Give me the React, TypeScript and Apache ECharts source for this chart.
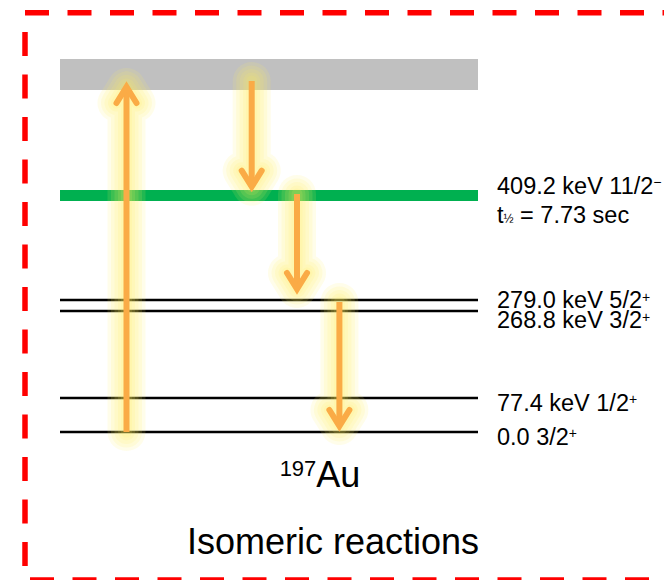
import React, { useEffect, useRef } from 'react';
import * as echarts from 'echarts';

// ---- data (schematic level diagram of 197Au) ----
const levelEnergies = ['0.0', '77.4 keV', '268.8 keV', '279.0 keV', '409.2 keV'];
const levelSpins = ['3/2', '1/2', '3/2', '5/2', '11/2'];
const levelParities = ['+', '+', '+', '+', '\u2212'];
// schematic heights of the levels in the drawing (not to energy scale)
const levelHeights = [0, 34, 121, 132, 236.5];
const isomerIndex = 4;
const isomerHalfLife = '7.73 sec';
// continuum / excitation band (schematic heights)
const bandRange = [342, 373];
// transitions: position along the level, start height, end height
const arrowX = [66.5, 191.7, 237, 279.4];
const arrowFrom = [0, 351, 238, 130];
const arrowTo = [351, 239.3, 137, 0];
const nucleusMass = '197';
const nucleusSymbol = 'Au';
const captionText = 'Isomeric reactions';

const FONT = "'Liberation Sans', Arial, Helvetica, sans-serif";
const X_MAX = 418;
const Y_MAX = 400;
const GLOW_WIDTHS = [38, 31, 24, 17, 11];

function labelCenters(): number[] {
  const c = levelHeights.map((h) => h - 4.5);
  for (let i = 0; i < c.length - 1; i++) {
    const gap = c[i + 1] - c[i];
    if (gap < 20) {
      const m = (c[i] + c[i + 1]) / 2;
      c[i] = m - 10;
      c[i + 1] = m + 10;
    }
  }
  return c;
}

function labelText(i: number): string {
  const first = `{m|${levelEnergies[i]} ${levelSpins[i]}}{sp|${levelParities[i]}}`;
  if (i === isomerIndex) {
    return `${first}\n{m|t}{sb|\u00bd}{m| = ${isomerHalfLife}}`;
  }
  return first;
}

export default function App() {
  const ref = useRef<HTMLDivElement>(null);

  useEffect(() => {
    if (!ref.current) return;
    const chart = echarts.init(ref.current, undefined, { renderer: 'svg' });
    const centers = labelCenters();

    const richBase = (lh: number) => ({
      m: { fontSize: 23.5, fontFamily: FONT, fill: '#000', lineHeight: lh },
      sp: { fontSize: 14, fontFamily: FONT, fill: '#000', padding: [0, 0, 7, 0], lineHeight: lh },
      sb: { fontSize: 12, fontFamily: FONT, fill: '#000', padding: [8, 0, 0, 0], lineHeight: lh },
    });

    const dash = { stroke: '#FF0000', lineWidth: 5.5, lineDash: [24, 18.5], lineCap: 'butt' };

    const option: any = {
      animation: false,
      grid: { left: 60, top: 32, width: X_MAX, height: Y_MAX },
      xAxis: { type: 'value', min: 0, max: X_MAX, show: false },
      yAxis: { type: 'value', min: 0, max: Y_MAX, show: false },
      graphic: [
        { type: 'line', shape: { x1: 25, y1: 12.7, x2: 720, y2: 12.7 }, style: dash, silent: true },
        { type: 'line', shape: { x1: 25, y1: 32, x2: 25, y2: 600 }, style: dash, silent: true },
        { type: 'line', shape: { x1: 30, y1: 580, x2: 720, y2: 580 }, style: dash, silent: true },
        {
          type: 'text',
          x: 320,
          y: 474.5,
          style: {
            text: `{sup|${nucleusMass}}{big|${nucleusSymbol}}`,
            align: 'center',
            verticalAlign: 'middle',
            rich: {
              sup: { fontSize: 22, fontFamily: FONT, fill: '#000', padding: [0, 0, 13, 0] },
              big: { fontSize: 36, fontFamily: FONT, fill: '#000' },
            },
          },
        },
        {
          type: 'text',
          x: 333,
          y: 541,
          style: {
            text: captionText,
            fontSize: 36,
            fontFamily: FONT,
            fill: '#000',
            align: 'center',
            verticalAlign: 'middle',
          },
        },
      ],
      series: [
        {
          type: 'custom',
          name: 'band',
          clip: false,
          z: 1,
          data: [[bandRange[0], bandRange[1]]],
          renderItem: (params: any, api: any) => {
            const lo = api.value(0);
            const hi = api.value(1);
            const a = api.coord([0, hi]);
            const b = api.coord([X_MAX, lo]);
            return {
              type: 'rect',
              shape: { x: a[0], y: a[1], width: b[0] - a[0], height: b[1] - a[1] },
              style: { fill: '#C0C0C0' },
            };
          },
        },
        {
          type: 'custom',
          name: 'levels',
          clip: false,
          z: 2,
          data: levelHeights.map((h, i) => [h, i]),
          renderItem: (params: any, api: any) => {
            const i = params.dataIndex;
            const h = api.value(0);
            const p0 = api.coord([0, h]);
            const p1 = api.coord([X_MAX, h]);
            const iso = i === isomerIndex;
            const lp = api.coord([X_MAX, centers[i]]);
            return {
              type: 'group',
              children: [
                {
                  type: 'line',
                  shape: { x1: p0[0], y1: p0[1], x2: p1[0], y2: p1[1] },
                  style: { stroke: iso ? '#00B050' : '#000000', lineWidth: iso ? 11 : 2.5 },
                },
                {
                  type: 'text',
                  x: lp[0] + 19,
                  y: lp[1],
                  style: {
                    text: labelText(i),
                    align: 'left',
                    verticalAlign: 'middle',
                    fontFamily: FONT,
                    fontSize: 23.5,
                    fill: '#000',
                    rich: richBase(iso ? 29 : 19),
                  },
                },
              ],
            };
          },
        },
        {
          type: 'custom',
          name: 'transitions',
          clip: false,
          z: 5,
          data: arrowX.map((x, i) => [x, arrowFrom[i], arrowTo[i]]),
          renderItem: (params: any, api: any) => {
            const x = api.value(0);
            const s = api.coord([x, api.value(1)]);
            const t = api.coord([x, api.value(2)]);
            const dir = t[1] > s[1] ? 1 : -1;
            const vx = t[0];
            const vy = t[1] - dir * 6;
            const armL = [vx - 10, vy - dir * 16];
            const armR = [vx + 10, vy - dir * 16];
            const tip = [vx, vy];
            const orange = '#FAAB46';
            const glowPts = [armL, tip, armR, tip, [s[0], s[1]]];
            const glows = GLOW_WIDTHS.map((w) => ({
              type: 'polyline',
              shape: { points: glowPts },
              style: {
                stroke: 'rgba(255,238,90,0.13)',
                fill: 'none',
                lineWidth: w,
                lineCap: 'round',
                lineJoin: 'round',
              },
            }));
            return {
              type: 'group',
              children: [
                ...glows,
                {
                  type: 'line',
                  shape: { x1: s[0], y1: s[1], x2: vx, y2: vy },
                  style: { stroke: orange, lineWidth: 6, lineCap: 'butt' },
                },
                {
                  type: 'polyline',
                  shape: { points: [armL, tip, armR] },
                  style: { stroke: orange, fill: 'none', lineWidth: 6, lineCap: 'round', lineJoin: 'miter' },
                },
              ],
            };
          },
        },
      ],
    };

    chart.setOption(option);
    return () => chart.dispose();
  }, []);

  return (
    <div
      ref={ref}
      style={{ position: 'absolute', left: 0, top: 0, width: 664, height: 580, background: '#fff' }}
    />
  );
}
